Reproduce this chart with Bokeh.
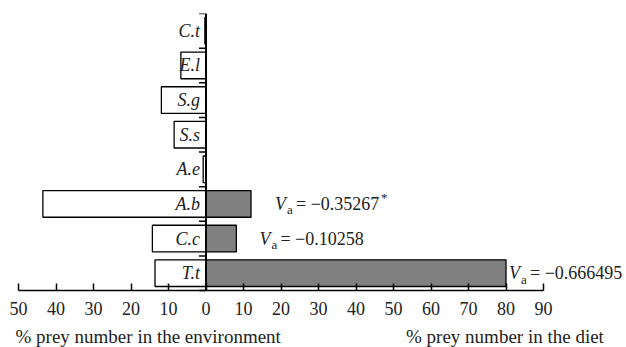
from bokeh.plotting import figure
from bokeh.models import Range1d, FixedTicker, LinearAxis, ColumnDataSource
from bokeh.embed import file_html
from bokeh.resources import INLINE
from bokeh.core.properties import value

# ---- data ----
species = ["C.t", "E.l", "S.g", "S.s", "A.e", "A.b", "C.c", "T.t"]
env_pct = [0.3, 6.7, 11.9, 8.5, 0.75, 43.5, 14.3, 13.6]   # % prey number in the environment
diet_pct = [0, 0, 0, 0, 0, 12.0, 8.1, 80.0]              # % prey number in the diet
va_species = ["A.b", "C.c", "T.t"]
va_values = ["−0.35267", "−0.10258", "−0.666495"]
va_star = ["*", "", ""]
x_ticks = list(range(-50, 91, 10))
title_env = "% prey number in the environment"
title_diet = "% prey number in the diet"

# ---- style ----
FONT = "Liberation Serif"
TXT = "#222222"
va_gap = [24, 23, 3]   # pixel gap between bar end and annotation
PX = 3.75              # pixels per percent
PY = 277 / 8           # pixels per category row

n = len(species)
ypos = [n - i - 0.5 for i in range(n)]

W, H = 626, 347
TOP = 13
x0 = x_ticks[0] - 18 / PX
y0 = -(H - TOP - n * PY) / PY
p = figure(width=W, height=H, output_backend="svg", toolbar_location=None,
           x_range=Range1d(x0, x0 + W / PX), y_range=Range1d(y0, n),
           x_axis_location=None, y_axis_location=None,
           min_border_left=0, min_border_right=0, min_border_top=TOP, min_border_bottom=0)
p.outline_line_color = None
p.xgrid.visible = False
p.ygrid.visible = False
p.background_fill_color = "white"
p.border_fill_color = "white"

src = ColumnDataSource(dict(y=ypos, sp=species, env_left=[-v for v in env_pct]))

p.hbar(y="y", left="env_left", right=0, height=0.77, source=src,
       fill_color="white", line_color="black", line_width=1.3)
diet_idx = [i for i, v in enumerate(diet_pct) if v > 0]
dsrc = ColumnDataSource(dict(y=[ypos[i] for i in diet_idx], right=[diet_pct[i] for i in diet_idx]))
p.hbar(y="y", left=0, right="right", height=0.77, source=dsrc,
       fill_color="#808080", line_color="black", line_width=1.3)

# zero line and boundary ticks
p.segment(x0=[0], x1=[0], y0=[0], y1=[n], line_color="black", line_width=2)
tick_len = 7 / PX
p.segment(x0=[-tick_len] * (n + 1), x1=[0] * (n + 1), y0=list(range(n + 1)), y1=list(range(n + 1)),
          line_color="black", line_width=1.5)

# category labels
p.text(x=0, y="y", text="sp", source=src, x_offset=-6, text_align="right",
       text_baseline="middle", text_font=value(FONT), text_font_style="italic",
       text_font_size="18px", text_color=TXT)

# Va annotations
vx = [diet_pct[species.index(s)] for s in va_species]
vy = [ypos[species.index(s)] for s in va_species]
asrc = ColumnDataSource(dict(x=vx, y=vy, txt=["= " + v for v in va_values], star=va_star,
                             g0=va_gap, g1=[g + 12 for g in va_gap],
                             g2=[g + 21 for g in va_gap], g3=[g + 106 for g in va_gap]))
p.text(x="x", y="y", text=value("V"), source=asrc, x_offset="g0", text_baseline="middle",
       text_font=value(FONT), text_font_style="italic", text_font_size="18px", text_color=TXT)
p.text(x="x", y="y", text=value("a"), source=asrc, x_offset="g1", y_offset=6, text_baseline="middle",
       text_font=value(FONT), text_font_size="13px", text_color=TXT)
p.text(x="x", y="y", text="txt", source=asrc, x_offset="g2", text_baseline="middle",
       text_font=value(FONT), text_font_size="18px", text_color=TXT)
p.text(x="x", y="y", text="star", source=asrc, x_offset="g3", y_offset=-6, text_baseline="middle",
       text_font=value(FONT), text_font_size="13px", text_color=TXT)

# x axis, fixed at y = 0 inside the frame
ax = LinearAxis(fixed_location=0)
ax.bounds = (x_ticks[0], x_ticks[-1])
ax.ticker = FixedTicker(ticks=x_ticks)
ax.major_label_overrides = {t: str(abs(t)) for t in x_ticks}
ax.major_tick_in = 7
ax.major_tick_out = 0
ax.minor_tick_line_color = None
ax.axis_line_width = 1.5
ax.major_tick_line_width = 1.5
ax.major_label_standoff = 11
ax.major_label_text_font = FONT
ax.major_label_text_font_size = "18px"
ax.major_label_text_color = TXT
p.add_layout(ax, "below")

# axis titles
ty = -46 / PY
p.text(x=[x_ticks[0] - 0.8], y=[ty], text=[title_env], text_align="left", text_baseline="middle",
       text_font=value(FONT), text_font_size="19px", text_color=TXT)
p.text(x=[106.1], y=[ty], text=[title_diet], text_align="right", text_baseline="middle",
       text_font=value(FONT), text_font_size="19px", text_color=TXT)

open("out.html", "w").write(file_html(p, INLINE))
